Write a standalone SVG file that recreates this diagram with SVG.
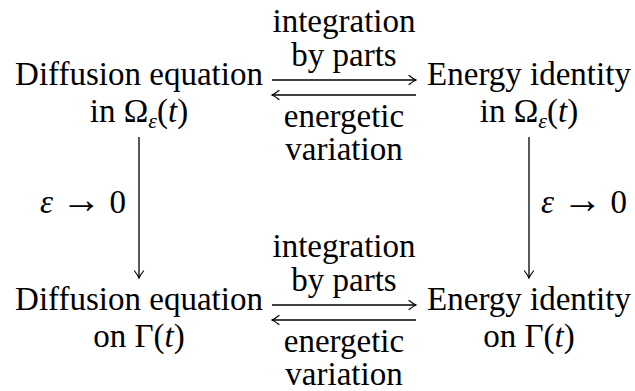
<svg xmlns="http://www.w3.org/2000/svg" width="635" height="391" viewBox="0 0 635 391">
<style>
text{font-family:Liberation Serif,Times New Roman,Times,Tinos,DejaVu Serif,Noto Serif,serif;font-size:33px;fill:#000;text-anchor:middle}
.it{font-style:italic}
.sub{font-size:22px;font-style:italic}
.arr{font-size:40px}
.edge{stroke:#000;stroke-width:1.3;fill:none}
</style>
<defs>
<marker id="ah" viewBox="-10 -6 12 12" refX="0" refY="0" markerWidth="12" markerHeight="12" markerUnits="userSpaceOnUse" orient="auto">
<path d="M-7,-4.5 Q-2.5,-1 0,0 Q-2.5,1 -7,4.5" fill="none" stroke="#000" stroke-width="1.2" stroke-linecap="round"/>
</marker>
</defs>
<rect width="635" height="391" fill="#fff"/>
<g id="n-diff-omega">
<text x="139" y="85">Diffusion equation</text>
<text x="139" y="122">in Ω<tspan class="sub" dy="6">ε</tspan><tspan dy="-6">(</tspan><tspan class="it">t</tspan>)</text>
</g>
<g id="n-energy-omega">
<text x="529" y="85">Energy identity</text>
<text x="529" y="122">in Ω<tspan class="sub" dy="6">ε</tspan><tspan dy="-6">(</tspan><tspan class="it">t</tspan>)</text>
</g>
<g id="n-diff-gamma">
<text x="139" y="310">Diffusion equation</text>
<text x="139" y="347">on Γ(<tspan class="it">t</tspan>)</text>
</g>
<g id="n-energy-gamma">
<text x="529" y="310">Energy identity</text>
<text x="529" y="347">on Γ(<tspan class="it">t</tspan>)</text>
</g>
<g id="connectors">
<line class="edge" x1="272" y1="80" x2="416" y2="80" marker-end="url(#ah)"/>
<line class="edge" x1="416" y1="95" x2="272" y2="95" marker-end="url(#ah)"/>
<line class="edge" x1="272" y1="305" x2="416" y2="305" marker-end="url(#ah)"/>
<line class="edge" x1="416" y1="320" x2="272" y2="320" marker-end="url(#ah)"/>
<line class="edge" x1="139" y1="137" x2="139" y2="278" marker-end="url(#ah)"/>
<line class="edge" x1="529" y1="137" x2="529" y2="278" marker-end="url(#ah)"/>
<text x="344" y="32">integration</text>
<text x="344" y="66">by parts</text>
<text x="344" y="127">energetic</text>
<text x="344" y="160">variation</text>
<text x="344" y="257">integration</text>
<text x="344" y="291">by parts</text>
<text x="344" y="352">energetic</text>
<text x="344" y="385">variation</text>
<text x="83" y="213"><tspan class="it">ε</tspan> <tspan class="arr">→</tspan> 0</text>
<text x="584" y="213"><tspan class="it">ε</tspan> <tspan class="arr">→</tspan> 0</text>
</g>
</svg>
